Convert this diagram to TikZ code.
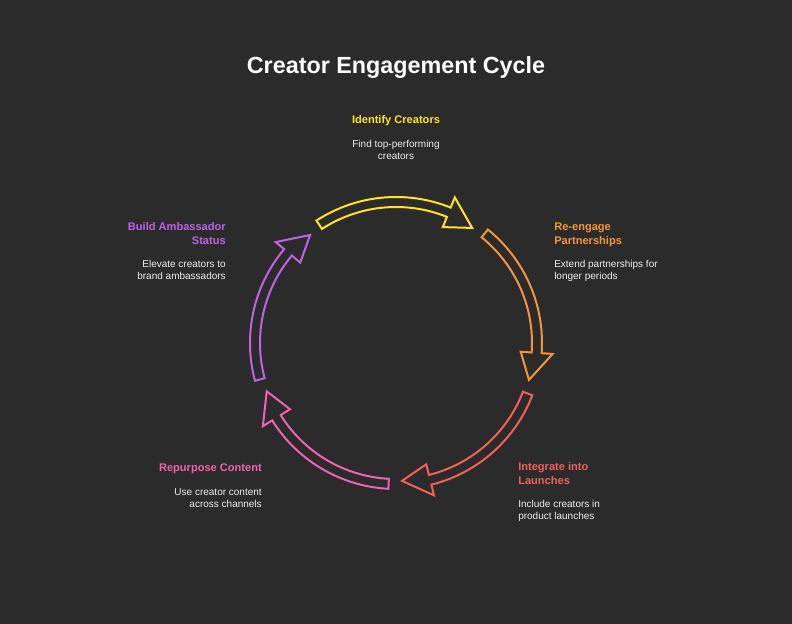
\documentclass[tikz,border=0pt]{standalone}
\usepackage{fontspec}
\setmainfont{Liberation Sans}
\definecolor{bgGray}{HTML}{2B2B2B}
\definecolor{cyYellow}{HTML}{FFE418}
\definecolor{cyOrange}{HTML}{F3963A}
\definecolor{cyRed}{HTML}{F2605A}
\definecolor{cyPink}{HTML}{EE64B0}
\definecolor{cyPurple}{HTML}{C062E6}
\definecolor{descWhite}{HTML}{EEEEEE}
\tikzset{
  titletxt/.style={font=\bfseries\fontsize{17.5}{21}\selectfont, text=white, inner sep=0pt, anchor=base},
  headtxt/.style={font=\bfseries\fontsize{8.3}{10.3}\selectfont, text=#1, inner sep=0pt},
  desctxt/.style={font=\fontsize{7.5}{9.3}\selectfont, text=descWhite, inner sep=0pt},
  cyclearrow/.style={draw=#1, line width=1.5pt, line join=miter}
}
\begin{document}
\begin{tikzpicture}[x=0.75pt, y=0.75pt]
    \fill[bgGray] (0,0) rectangle (792,624);
    \useasboundingbox (0,0) rectangle (792,624);
    \node[titletxt] (title) at (396,550.7) {Creator Engagement Cycle};

    % 1. arrows round the hub
    \coordinate (hub) at (396,281);
    \foreach \a/\col [evaluate=\a as \b using \a-55, evaluate=\a as \t using \a-66.5] in {123/cyYellow, 51/cyOrange, -21/cyRed, -93/cyPink, -165/cyPurple} {
      \draw[cyclearrow=\col, shift={(hub)}] (\a:146) arc[start angle=\a, end angle=\b, radius=146]
        -- (\b:157) -- (\t:138) -- (\b:125) -- (\b:136)
        arc[start angle=\b, end angle=\a, radius=136] -- cycle;
    }

    % 2. labels
    \node[headtxt=cyYellow, anchor=north, align=center] (identify) at (396,509) {Identify Creators};
    \node[desctxt, anchor=north, align=center] (identifyText) at (396,484.5) {Find top-performing\\creators};
    \node[headtxt=cyOrange, anchor=north west, align=left] (reengage) at (554,401) {Re-engage\\Partnerships};
    \node[desctxt, anchor=north west, align=left] (reengageText) at (554,364) {Extend partnerships for\\longer periods};
    \node[headtxt=cyRed, anchor=north west, align=left] (integrate) at (518,162) {Integrate into\\Launches};
    \node[desctxt, anchor=north west, align=left] (integrateText) at (518,124.5) {Include creators in\\product launches};
    \node[headtxt=cyPink, anchor=north east, align=right] (repurpose) at (262,160) {Repurpose Content};
    \node[desctxt, anchor=north east, align=right] (repurposeText) at (262,136) {Use creator content\\across channels};
    \node[headtxt=cyPurple, anchor=north east, align=right] (ambassador) at (226,401.5) {Build Ambassador\\Status};
    \node[desctxt, anchor=north east, align=right] (ambassadorText) at (226,364) {Elevate creators to\\brand ambassadors};
  \end{tikzpicture}
\end{document}
